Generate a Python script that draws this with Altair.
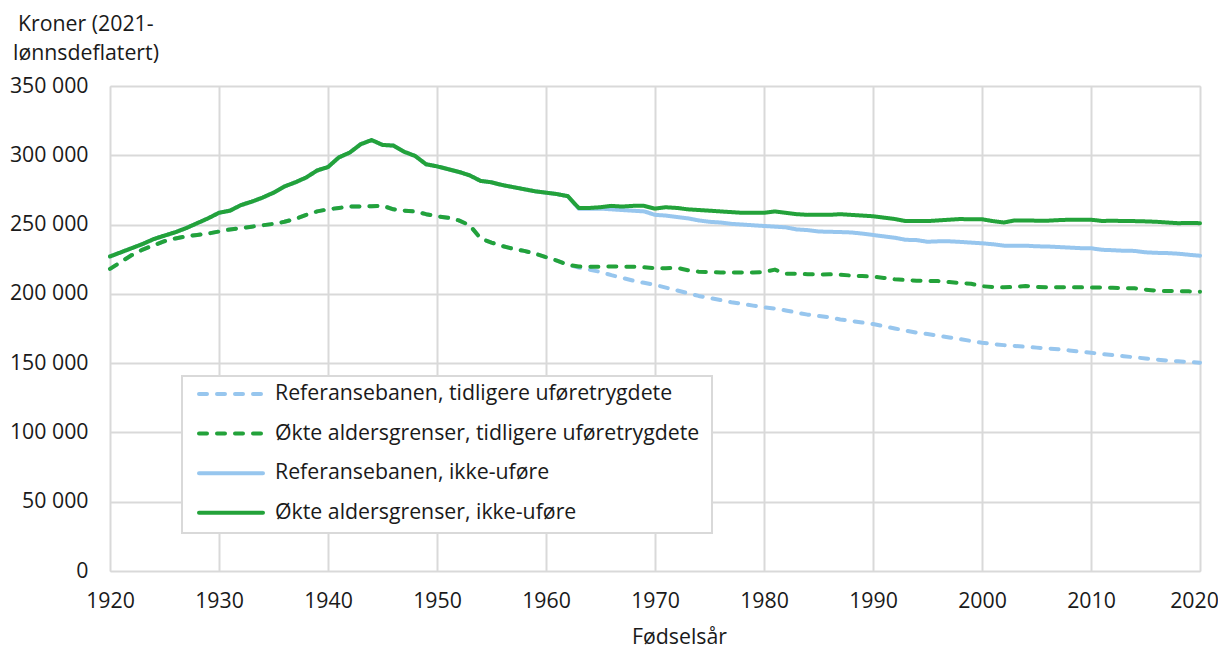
import altair as alt
import pandas as pd

years = list(range(1920, 2021))

series_names = [
    "Referansebanen, tidligere uføretrygdete",
    "Økte aldersgrenser, tidligere uføretrygdete",
    "Referansebanen, ikke-uføre",
    "Økte aldersgrenser, ikke-uføre",
]
series_colors = ["#97C6EE", "#23A23A", "#97C6EE", "#23A23A"]

# Økte aldersgrenser, ikke-uføre (thousand kroner)
okte_ikke = [
    227, 230, 233, 236, 239.5, 242, 244.5, 247.5, 251, 254.5,
    258.5, 260, 264, 266.5, 269.5, 273, 277.5, 280.5, 284, 289,
    291.5, 298.5, 302, 308, 311, 307.5, 307, 302.5, 299.5, 293.5,
    292, 290, 288, 285.5, 281.5, 280.5, 278.5, 277, 275.5, 274,
    273, 272, 270.5, 262, 262, 262.5, 263.5, 263, 263.5, 263.5,
    261.5, 262.5, 262, 261, 260.5, 260, 259.5, 259, 258.5, 258.5,
    258.5, 259.5, 258.5, 257.5, 257, 257, 257, 257.5, 257, 256.5,
    256, 255, 254, 252.5, 252.5, 252.5, 253, 253.5, 254, 253.8,
    253.8, 252.5, 251.5, 253, 253, 252.8, 252.8, 253.2, 253.5, 253.5,
    253.5, 252.6, 252.8, 252.5, 252.5, 252.3, 252, 251.5, 251, 251.2,
    251,
]

# Referansebanen, ikke-uføre
ref_ikke = okte_ikke[:43] + [
    261.5, 261.5, 261.5, 261, 260.5, 260, 259.5,
    257, 256.5, 255.5, 254.5, 253, 252, 251.5, 250.5, 250, 249.5,
    249, 248.5, 248, 246.5, 246, 245, 244.8, 244.6, 244.3, 243.5,
    242.5, 241.5, 240.5, 239, 238.8, 237.6, 237.9, 237.9, 237.5, 237,
    236.5, 235.8, 234.8, 234.8, 234.8, 234.3, 234.2, 233.8, 233.4, 233,
    232.9, 231.8, 231.5, 231.1, 231, 230, 229.6, 229.4, 229, 228.2,
    227.5,
]

# Økte aldersgrenser, tidligere uføretrygdete
okte_tidl = [
    218, 223, 228, 232, 235, 238, 240, 241.5, 242.5, 243.5,
    245, 246.5, 247.5, 248.5, 249.5, 250.5, 252, 254, 257, 259.5,
    261, 262, 263, 263, 263.3, 263.6, 261, 260, 259.5, 257.5,
    256, 255, 253, 249.5, 240, 237, 234.5, 232.5, 231, 229,
    226.5, 224, 221, 219.8, 219.6, 219.6, 219.8, 219.6, 219.6, 219.2,
    218.5, 218.5, 218.9, 217, 216, 215.7, 215.5, 215.5, 215.5, 215.5,
    215.7, 217.5, 214.5, 214.5, 214.2, 214, 214.1, 213.8, 213.2, 212.8,
    212.4, 211.5, 210.5, 210, 209.5, 209.3, 209.2, 208.5, 207.8, 207.3,
    205.5, 205, 204.7, 205, 205.7, 205, 204.7, 204.8, 204.8, 204.7,
    204.6, 204.5, 204.4, 204.2, 204, 203, 202.3, 202, 202, 201.8,
    201.6,
]

# Referansebanen, tidligere uføretrygdete
ref_tidl = okte_tidl[:43] + [
    219, 217.5, 215.8, 213.5, 211.5, 209.5, 208,
    206.5, 204.5, 202.5, 200.5, 198.5, 197, 195.5, 194, 192.8, 191.5,
    190.3, 189.4, 188, 186.5, 185, 184, 183, 181.5, 180.5, 179.3,
    178.2, 176.6, 175, 173.5, 172, 171, 169.8, 168.5, 167.3, 166,
    164.7, 163.8, 163, 162.4, 161.8, 161.2, 160.6, 160, 159.2, 158.3,
    157.5, 156.6, 155.8, 155, 154.2, 153.4, 152.6, 151.9, 151.3, 150.8,
    150.3,
]

y_ticks = [0, 50000, 100000, 150000, 200000, 250000, 300000, 350000]
x_ticks = list(range(1920, 2021, 10))
y_title_lines = ["Kroner (2021-", "lønnsdeflatert)"]

values_by_series = [ref_tidl, okte_tidl, ref_ikke, okte_ikke]
rows = []
for name, vals in zip(series_names, values_by_series):
    for yr, v in zip(years, vals):
        rows.append({"year": yr, "value": v * 1000, "series": name})
df = pd.DataFrame(rows)

legend_df = pd.DataFrame({"series": series_names, "row": [0, 1, 2, 3]})
title_df = pd.DataFrame({"line": y_title_lines})

FONT = "Open Sans"
FS = 21.3
TXT = "#1a1a1a"
GRID = "#d9d9d9"

color_scale = alt.Scale(domain=series_names, range=series_colors)
dash_scale = alt.Scale(domain=series_names, range=[[8, 10], [8, 10], [1, 0], [1, 0]])

x_enc = alt.X(
    "year:Q",
    scale=alt.Scale(domain=[1920, 2020], nice=False, zero=False),
    axis=alt.Axis(
        values=x_ticks, format="d", title="Fødselsår", grid=True, gridColor=GRID,
        gridWidth=2, domain=False, ticks=False, tickSize=0, labelPadding=19,
        labelFlush=False, labelOverlap=False,
        labelOffset={"condition": {"test": "datum.value == 2020", "value": -6}, "value": 0},
        labelFontSize=FS, labelFont=FONT, labelColor=TXT,
        titleFont=FONT, titleFontSize=FS, titleFontWeight="normal", titleColor=TXT,
        titleX=569, titleY=72, titleBaseline="alphabetic", titleAlign="center",
    ),
)
y_enc = alt.Y(
    "value:Q",
    scale=alt.Scale(domain=[0, 350000], nice=False),
    axis=alt.Axis(
        values=y_ticks, labelExpr="replace(format(datum.value, ','), ',', ' ')",
        title=None, grid=True, gridColor=GRID,
        gridWidth=2, domain=False, ticks=False, tickSize=0, labelPadding=22,
        labelFontSize=FS, labelFont=FONT, labelColor=TXT, labelOverlap=False,
    ),
)

base = alt.Chart(df).mark_line(strokeWidth=4, strokeCap="round", strokeJoin="round").encode(
    x=x_enc,
    y=y_enc,
    color=alt.Color("series:N", scale=color_scale, legend=None),
    strokeDash=alt.StrokeDash("series:N", scale=dash_scale, legend=None),
)
line_layers = [base.transform_filter(alt.datum.series == s) for s in series_names]

# y-axis title as two left-aligned lines (first line slightly indented, as in the original)
title_base = alt.Chart(title_df).mark_text(
    align="left", baseline="alphabetic", font=FONT, fontSize=FS, color=TXT
)
title_l1 = title_base.encode(
    x=alt.value(-92), y=alt.value(-55), text="line:N"
).transform_filter(alt.datum.line == y_title_lines[0])
title_l2 = title_base.encode(
    x=alt.value(-97), y=alt.value(-26), text="line:N"
).transform_filter(alt.datum.line == y_title_lines[1])

legend_box = alt.Chart(legend_df).mark_rect(
    fill="white", stroke=GRID, strokeWidth=2
).encode(
    x=alt.value(72), x2=alt.value(602), y=alt.value(290), y2=alt.value(447)
).transform_filter(alt.datum.row == 0)

legend_base = alt.Chart(legend_df).transform_calculate(py="308 + 39.6 * datum.row")
legend_sym = legend_base.mark_rule(strokeWidth=4, strokeCap="round").encode(
    x=alt.value(89), x2=alt.value(153),
    y=alt.Y("py:Q", scale=None),
    color=alt.Color("series:N", scale=color_scale, legend=None),
    strokeDash=alt.StrokeDash("series:N", scale=dash_scale, legend=None),
)
legend_txt = legend_base.mark_text(
    align="left", baseline="middle", font=FONT, fontSize=FS, color=TXT
).encode(
    x=alt.value(165),
    y=alt.Y("py:Q", scale=None),
    text="series:N",
)

chart = alt.layer(
    *line_layers, legend_box, legend_sym, legend_txt, title_l1, title_l2
).properties(
    width=1090,
    height=485,
    autosize=alt.AutoSizeParams(type="none"),
    padding={"left": 102, "top": 78, "right": 18, "bottom": 77},
).configure_view(strokeWidth=0).configure(background="white")

chart.save("out.html", embed_options={"renderer": "svg", "actions": False})
